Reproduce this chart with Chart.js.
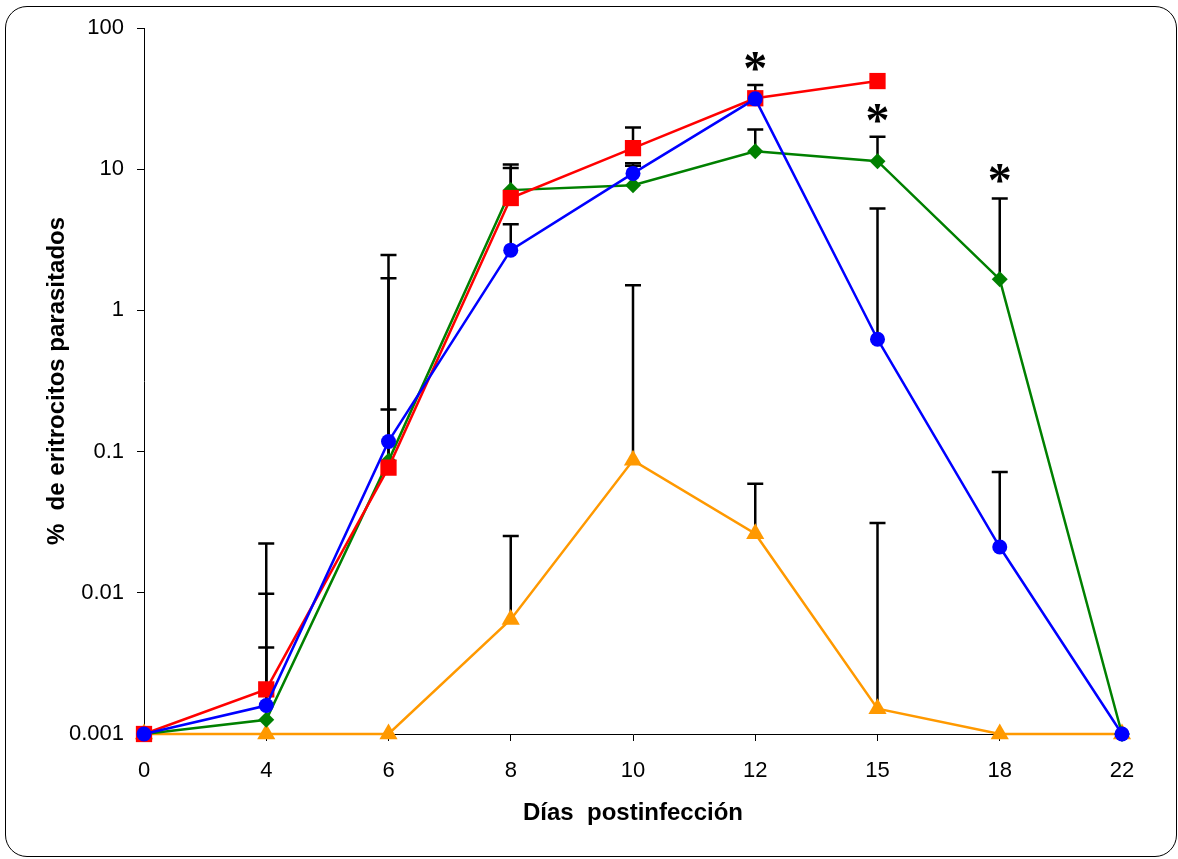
<!DOCTYPE html>
<html>
<head>
<meta charset="utf-8">
<script src="https://cdn.jsdelivr.net/npm/chart.js@4.4.1/dist/chart.umd.min.js"></script>
<style>
  html, body { margin: 0; padding: 0; background: #fff; }
  #wrap { position: relative; width: 1178px; height: 859px; }
  #frame {
    position: absolute; left: 5px; top: 6px; width: 1172px; height: 851px;
    box-sizing: border-box; border: 1.5px solid #000; border-radius: 22px;
    pointer-events: none;
  }
  canvas { position: absolute; left: 0; top: 0; }
</style>
</head>
<body>
<div id="wrap">
  <canvas id="chart" width="1178" height="859"></canvas>
  <div id="frame"></div>
</div>
<script>
const xLabels = ['0', '4', '6', '8', '10', '12', '15', '18', '22'];
const yTicks = [0.001, 0.01, 0.1, 1, 10, 100];
const yTickLabels = ['0.001', '0.01', '0.1', '1', '10', '100'];

const redValues = [0.001, 0.00207, 0.077, 6.25, 14.1, 31.8, 42.1, null, null];
const blueValues = [0.001, 0.00159, 0.118, 2.67, 9.34, 31.5, 0.625, 0.0211, 0.001];
const greenValues = [0.001, 0.00126, 0.086, 7.11, 7.71, 13.4, 11.4, 1.66, 0.001];
const orangeValues = [0.001, 0.001, 0.001, 0.00648, 0.0867, 0.0262, 0.00151, 0.001, 0.001];

// upper error bar ends (null = no bar)
const redErrors = [null, 0.0223, 1.69, 10.8, 19.7, 39.4, null, null, null];
const blueErrors = [null, 0.00986, 2.47, 4.08, 11.0, null, 5.27, 0.0717, null];
const greenErrors = [null, 0.0041, 0.199, 10.2, 10.6, 19.1, 17.0, 6.21, null];
const orangeErrors = [null, null, null, 0.0252, 1.51, 0.0593, 0.0312, null, null];

// significance marks
const starDays = ['12', '15', '18'];
const starLevels = [57.7, 24.9, 9.34];

const errorSets = [blueErrors, redErrors, greenErrors, orangeErrors];

const errorBarsPlugin = {
  id: 'errorBars',
  beforeDatasetsDraw(chart) {
    const { ctx } = chart;
    const yScale = chart.scales.y;
    ctx.save();
    ctx.strokeStyle = '#000';
    ctx.lineWidth = 2.5;
    errorSets.forEach((errs, i) => {
      const meta = chart.getDatasetMeta(i);
      errs.forEach((e, j) => {
        if (e === null) return;
        const pt = meta.data[j];
        const top = yScale.getPixelForValue(e);
        ctx.beginPath();
        ctx.moveTo(pt.x, pt.y);
        ctx.lineTo(pt.x, top);
        ctx.moveTo(pt.x - 8, top);
        ctx.lineTo(pt.x + 8, top);
        ctx.stroke();
      });
    });
    ctx.restore();
  },
};

const starsPlugin = {
  id: 'stars',
  afterDatasetsDraw(chart) {
    const { ctx } = chart;
    const xScale = chart.scales.x;
    const yScale = chart.scales.y;
    ctx.save();
    ctx.fillStyle = '#000';
    ctx.font = 'bold 48px "Liberation Serif"';
    ctx.textAlign = 'center';
    ctx.textBaseline = 'alphabetic';
    const m = ctx.measureText('*');
    const shift = (m.actualBoundingBoxAscent - m.actualBoundingBoxDescent) / 2;
    starDays.forEach((d, i) => {
      const x = xScale.getPixelForValue(xLabels.indexOf(d));
      const y = yScale.getPixelForValue(starLevels[i]);
      ctx.fillText('*', x, y + shift);
    });
    ctx.restore();
  },
};

function series(data, color, style, radius, order) {
  return {
    data,
    borderColor: color,
    backgroundColor: color,
    borderWidth: 2.5,
    pointStyle: style,
    pointRadius: radius,
    pointHoverRadius: radius,
    pointBorderWidth: 0,
    fill: false,
    tension: 0,
    clip: false,
    order,
  };
}

const ctx = document.getElementById('chart').getContext('2d');
new Chart(ctx, {
  type: 'line',
  data: {
    labels: xLabels,
    datasets: [
      series(blueValues, '#0000FF', 'circle', 7.5, 0),
      series(redValues, '#FF0000', 'rect', 11.5, 1),
      series(greenValues, '#008000', 'rectRot', 8, 2),
      series(orangeValues, '#FF9900', 'triangle', 10.5, 3),
    ],
  },
  options: {
    responsive: false,
    animation: false,
    events: [],
    layout: { padding: { top: 28, right: 56, left: 0, bottom: 0 } },
    plugins: { legend: { display: false }, tooltip: { enabled: false } },
    scales: {
      x: {
        type: 'category',
        offset: false,
        grid: { drawOnChartArea: false, drawTicks: true, tickLength: 7, color: '#000' },
        border: { display: true, color: '#000', width: 1 },
        ticks: { color: '#000', padding: 17, maxRotation: 0, font: { family: 'Liberation Sans', size: 22 } },
        title: {
          display: true,
          text: 'Días  postinfección',
          color: '#000',
          font: { family: 'Liberation Sans', size: 24, weight: 'bold' },
          padding: { top: 0, bottom: 31 },
        },
        afterFit(scale) { scale.height = 125; },
      },
      y: {
        type: 'logarithmic',
        min: 0.001,
        max: 100,
        grid: { drawOnChartArea: false, drawTicks: true, tickLength: 7, color: '#000' },
        border: { display: true, color: '#000', width: 1 },
        afterBuildTicks(scale) { scale.ticks = yTicks.map(v => ({ value: v })); },
        ticks: {
          color: '#000',
          padding: 13,
          font: { family: 'Liberation Sans', size: 22 },
          callback: (value, index) => yTickLabels[index],
        },
        title: {
          display: true,
          text: '%  de eritrocitos parasitados',
          color: '#000',
          font: { family: 'Liberation Sans', size: 24, weight: 'bold' },
          padding: { top: 43, bottom: 0 },
        },
        afterFit(scale) { scale.width = 144; },
      },
    },
  },
  plugins: [errorBarsPlugin, starsPlugin],
});
</script>
</body>
</html>
